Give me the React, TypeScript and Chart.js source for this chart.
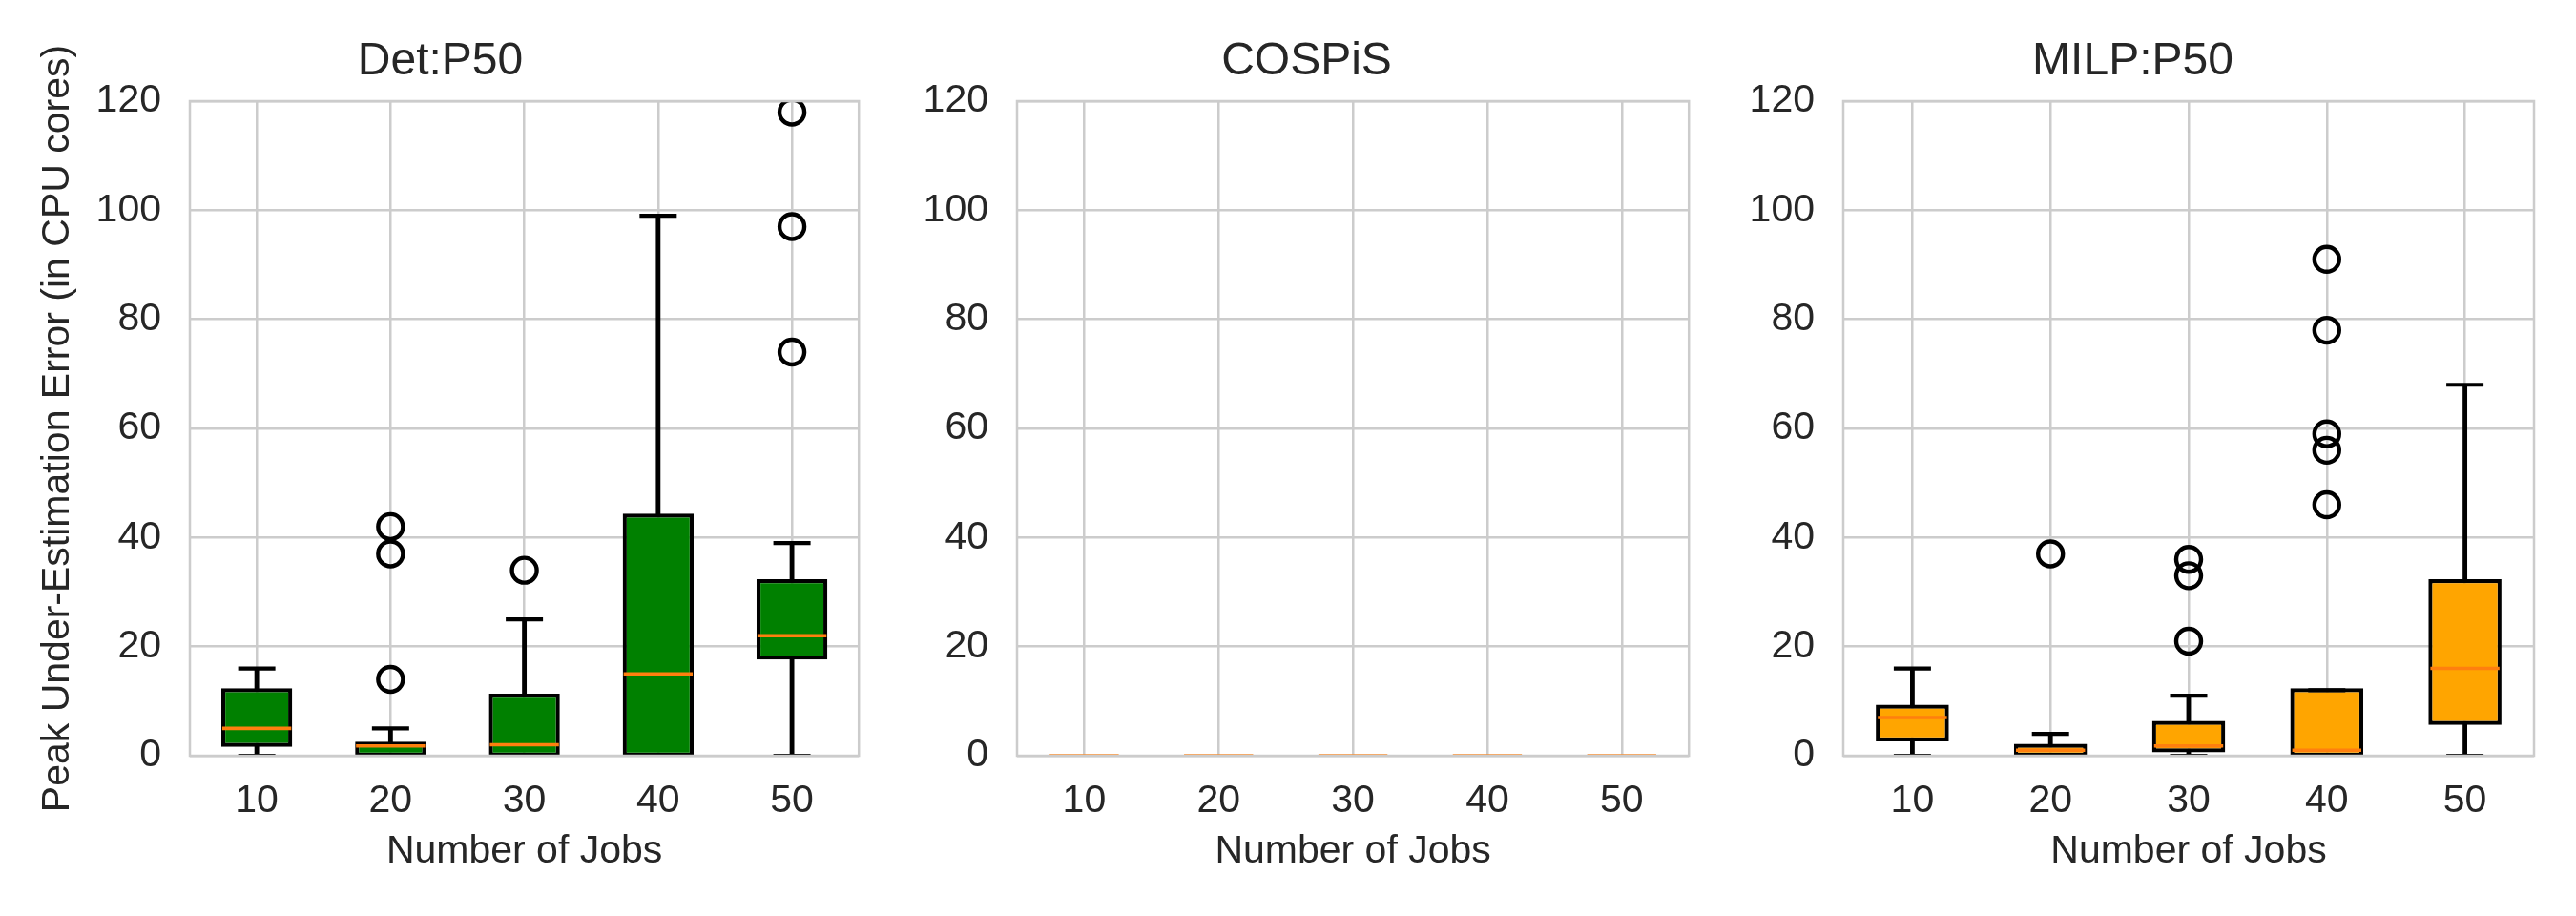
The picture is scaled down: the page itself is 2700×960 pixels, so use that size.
import React, { useEffect, useRef } from 'react';
import { Chart, registerables } from 'chart.js';

Chart.register(...registerables);

// ---------- data ----------
const jobCounts = ['10', '20', '30', '40', '50'];
const yTicks = [0, 20, 40, 60, 80, 100, 120];

const detLow = [0, 0, 0, 0, 0];
const detQ1 = [2, 0, 0, 0, 18];
const detMedian = [5, 1.8, 2, 15, 22];
const detQ3 = [12, 2.2, 11, 44, 32];
const detHigh = [16, 5, 25, 99, 39];
const detOutliers = [[], [42, 37, 14], [34], [], [118, 97, 74]];

const cospisLow = [0, 0, 0, 0, 0];
const cospisQ1 = [0, 0, 0, 0, 0];
const cospisMedian = [0, 0, 0, 0, 0];
const cospisQ3 = [0, 0, 0, 0, 0];
const cospisHigh = [0, 0, 0, 0, 0];
const cospisOutliers: number[][] = [[], [], [], [], []];

const milpLow = [0, 0, 0, 0, 0];
const milpQ1 = [3, 0, 1, 0, 6];
const milpMedian = [7, 1, 1.8, 1, 16];
const milpQ3 = [9, 1.8, 6, 12, 32];
const milpHigh = [16, 4, 11, 12, 68];
const milpOutliers = [[], [37], [36, 33, 21], [91, 78, 59, 56, 46], []];

const panelTitles = ['Det:P50', 'COSPiS', 'MILP:P50'];
const xAxisTitle = 'Number of Jobs';
const yAxisTitle = 'Peak Under-Estimation Error (in CPU cores)';

// ---------- styling ----------
const FONT = "'Liberation Sans', Arial, sans-serif";
const TEXT = '#262626';
const GRID = '#cccccc';
const LW = 4.2;

type Panel = {
  title: string;
  low: number[];
  q1: number[];
  median: number[];
  q3: number[];
  high: number[];
  outliers: number[][];
  fill: string;
  capColor: string;
  boxBorder: string;
  left: number;
  width: number;
  yWidth: number;
  padRight: number;
  showYTitle: boolean;
};

const panels: Panel[] = [
  {
    title: panelTitles[0], low: detLow, q1: detQ1, median: detMedian, q3: detQ3, high: detHigh,
    outliers: detOutliers, fill: '#008000', capColor: '#000000', boxBorder: '#000000',
    left: 0, width: 940, yWidth: 199, padRight: 17, showYTitle: true,
  },
  {
    title: panelTitles[1], low: cospisLow, q1: cospisQ1, median: cospisMedian, q3: cospisQ3, high: cospisHigh,
    outliers: cospisOutliers, fill: 'rgba(0,0,0,0)', capColor: 'rgba(0,0,0,0)', boxBorder: 'rgba(0,0,0,0)',
    left: 950, width: 860, yWidth: 116, padRight: 21, showYTitle: false,
  },
  {
    title: panelTitles[2], low: milpLow, q1: milpQ1, median: milpMedian, q3: milpQ3, high: milpHigh,
    outliers: milpOutliers, fill: '#FFA500', capColor: '#000000', boxBorder: '#000000',
    left: 1815, width: 885, yWidth: 117, padRight: 44, showYTitle: false,
  },
];

const framePlugin = {
  id: 'frame',
  afterDatasetsUpdate(chart: any) {
    // centre the box outline on the quartile edges (as matplotlib does)
    chart.data.datasets.forEach((ds: any, i: number) => {
      if (ds.label !== 'box') return;
      const meta = chart.getDatasetMeta(i);
      const h = LW / 2;
      meta.data.forEach((el: any) => {
        if (el.y <= el.base) {
          el.y -= h;
          el.base += h;
        } else {
          el.y += h;
          el.base -= h;
        }
        el.width += LW;
      });
    });
  },
  afterDatasetsDraw(chart: any) {
    const { ctx, chartArea } = chart;
    ctx.save();
    ctx.strokeStyle = GRID;
    ctx.lineWidth = 2.5;
    ctx.strokeRect(chartArea.left, chartArea.top, chartArea.right - chartArea.left, chartArea.bottom - chartArea.top);
    ctx.restore();
  },
};

function buildConfig(p: Panel): any {
  const outlierPoints = p.outliers.flatMap((arr, i) => arr.map((v) => ({ x: jobCounts[i], y: v })));
  const datasets: any[] = [
    {
      type: 'line', label: 'outliers', data: outlierPoints, showLine: false,
      pointStyle: 'circle', pointRadius: 13, pointBorderWidth: 4.4,
      pointBorderColor: '#000000', pointBackgroundColor: 'rgba(0,0,0,0)', order: 0, clip: 0,
    },
    {
      type: 'line', label: 'median', data: p.median, showLine: false,
      pointStyle: 'line', pointRadius: 36.2, pointBorderWidth: 3.6,
      pointBorderColor: '#ff7f0e', order: 1, clip: 0,
    },
    {
      type: 'line', label: 'capHigh', data: p.high, showLine: false,
      pointStyle: 'line', pointRadius: 19.5, pointBorderWidth: LW,
      pointBorderColor: p.capColor, order: 2, clip: 0,
    },
    {
      type: 'line', label: 'capLow', data: p.low, showLine: false,
      pointStyle: 'line', pointRadius: 19.5, pointBorderWidth: LW,
      pointBorderColor: p.capColor, order: 2, clip: 0,
    },
    {
      type: 'bar', label: 'box', data: p.q1.map((v, i) => [v, p.q3[i]]),
      backgroundColor: p.fill, borderColor: p.boxBorder, borderWidth: LW, borderSkipped: false,
      barPercentage: 0.5, categoryPercentage: 1, grouped: false, order: 3, clip: 0,
    },
    {
      type: 'bar', label: 'whiskerHigh', data: p.q3.map((v, i) => [v, p.high[i]]),
      backgroundColor: p.capColor, borderWidth: 0, barThickness: LW, grouped: false, order: 4, clip: 0,
    },
    {
      type: 'bar', label: 'whiskerLow', data: p.low.map((v, i) => [v, p.q1[i]]),
      backgroundColor: p.capColor, borderWidth: 0, barThickness: LW, grouped: false, order: 4, clip: 0,
    },
  ];

  return {
    type: 'bar',
    data: { labels: jobCounts, datasets },
    plugins: [framePlugin],
    options: {
      responsive: false,
      animation: false,
      devicePixelRatio: 1,
      events: [],
      layout: { padding: { left: 0, right: p.padRight, top: 0, bottom: 0 } },
      plugins: {
        legend: { display: false },
        tooltip: { enabled: false },
        title: {
          display: true,
          text: p.title,
          color: TEXT,
          font: { family: FONT, size: 48, weight: 'normal', lineHeight: 1.2 },
          padding: { top: 36, bottom: 12.4 },
        },
      },
      scales: {
        x: {
          type: 'category',
          labels: jobCounts,
          offset: true,
          grid: { offset: false, color: GRID, lineWidth: 2.5, drawTicks: false },
          border: { display: false },
          ticks: { color: TEXT, padding: 23, font: { family: FONT, size: 41 } },
          title: {
            display: true, text: xAxisTitle, color: TEXT,
            font: { family: FONT, size: 41, lineHeight: 1.2 },
            padding: { top: 0, bottom: 43 },
          },
          afterFit: (s: any) => { s.height = 168; },
        },
        y: {
          min: yTicks[0],
          max: yTicks[yTicks.length - 1],
          grid: { color: GRID, lineWidth: 2.5, drawTicks: false },
          border: { display: false },
          afterBuildTicks: (s: any) => { s.ticks = yTicks.map((v) => ({ value: v })); },
          ticks: { color: TEXT, padding: 30, font: { family: FONT, size: 41 } },
          title: {
            display: p.showYTitle, text: yAxisTitle, color: TEXT,
            font: { family: FONT, size: 41, lineHeight: 1.2 },
            padding: { top: 36.4, bottom: 0 },
          },
          afterFit: (s: any) => { s.width = p.yWidth; },
        },
      },
    },
  };
}

function PanelChart({ panel }: { panel: Panel }) {
  const ref = useRef<HTMLCanvasElement | null>(null);
  useEffect(() => {
    if (!ref.current) return;
    const chart = new Chart(ref.current, buildConfig(panel));
    return () => chart.destroy();
  }, [panel]);
  return (
    <canvas
      ref={ref}
      width={panel.width}
      height={960}
      style={{ position: 'absolute', left: panel.left, top: 0, width: panel.width, height: 960 }}
    />
  );
}

export default function App() {
  return (
    <div style={{ position: 'absolute', left: 0, top: 0, width: 2700, height: 960, background: '#ffffff', overflow: 'hidden' }}>
      {panels.map((p) => (
        <PanelChart key={p.title} panel={p} />
      ))}
    </div>
  );
}
